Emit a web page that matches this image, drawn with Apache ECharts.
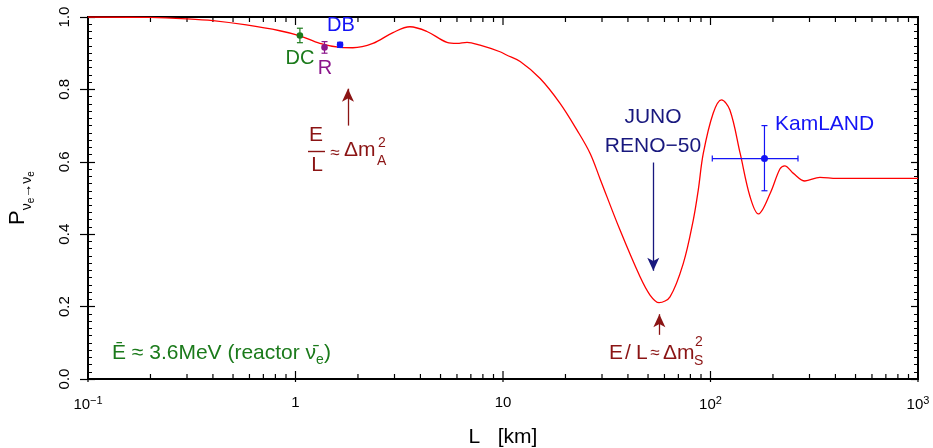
<!DOCTYPE html>
<html>
<head>
<meta charset="utf-8">
<script src="https://cdn.jsdelivr.net/npm/echarts@6/dist/echarts.min.js"></script>
<style>
  html, body { margin: 0; padding: 0; background: #fff; }
  #chart { width: 933px; height: 448px; }
</style>
</head>
<body>
<div id="chart"></div>
<script>
// survival probability curve
const curveL = [0.1, 0.2, 0.3, 0.4, 0.58, 0.84, 1.05, 1.31, 1.64, 1.89, 2.36, 2.95, 3.56, 4.3, 5.37, 6.0, 6.71, 7.75, 9.67, 10.4, 12.1, 15.1, 18.8, 22.7, 26.3, 29.4, 36.6, 45.7, 51.1, 56.5, 63.8, 74.0, 82.6, 87.3, 92.3, 103, 113, 124, 139, 155, 170, 194, 216, 228, 251, 285, 337, 406, 1000];
const curveP = [1.0, 0.999, 0.995, 0.99, 0.978, 0.962, 0.948, 0.927, 0.916, 0.915, 0.927, 0.957, 0.973, 0.960, 0.930, 0.927, 0.930, 0.922, 0.904, 0.895, 0.877, 0.830, 0.762, 0.688, 0.623, 0.552, 0.412, 0.283, 0.232, 0.211, 0.227, 0.320, 0.439, 0.522, 0.623, 0.734, 0.771, 0.743, 0.623, 0.504, 0.456, 0.513, 0.580, 0.589, 0.568, 0.547, 0.557, 0.554, 0.554];

// short baseline reactor experiments
const expNames = ['DC', 'R', 'DB'];
const expL = [1.05, 1.38, 1.64];
const expP = [0.949, 0.916, 0.923];
const expErr = [0.02, 0.016, 0.007];
const expColors = ['#1b7a1b', '#8b168b', '#1414f5'];

// KamLAND point with both error bars
const kamL = 182;
const kamP = 0.609;
const kamLRange = [102, 264];
const kamPRange = [0.52, 0.70];

// arrows (L, from P, to P)
const arrowL = [1.79, 53.0, 56.7];
const arrowFrom = [0.70, 0.598, 0.122];
const arrowTo = [0.802, 0.299, 0.179];
const arrowColors = ['#8b1414', '#18187e', '#8b1414'];

const xMajor = [0.1, 1, 10, 100, 1000];
const xLabels = ['10{sup|−1}', '1', '10', '10{sup|2}', '10{sup|3}'];

const font = 'Liberation Sans, Arial, Helvetica, sans-serif';
const red = '#8b1414';

const xMinor = [];
xMajor.slice(0, -1).forEach(d => {
  for (let k = 2; k <= 9; k++) xMinor.push(d * k);
});
const tickData = xMajor.map(v => [v, 1]).concat(xMinor.map(v => [v, 0]));

const chart = echarts.init(document.getElementById('chart'));

const txt = (x, y, text, size, color, align) => ({
  type: 'text', x, y, silent: true,
  style: { text, font: size + 'px ' + font, fill: color, align: align || 'center', verticalAlign: 'middle' }
});

chart.setOption({
  animation: false,
  grid: {
    left: 88, right: 15, top: 17, bottom: 69, outerBoundsMode: 'none', containLabel: false,
    show: true, borderColor: '#000', borderWidth: 2, backgroundColor: 'transparent'
  },
  xAxis: {
    type: 'log', logBase: 10, min: 0.1, max: 1000,
    axisLine: { lineStyle: { color: '#000', width: 2 } },
    axisTick: { show: false },
    splitLine: { show: false },
    axisLabel: {
      margin: 16, color: '#000', fontFamily: font,
      formatter: v => xLabels[Math.round(Math.log10(v)) + 1],
      rich: {
        sup: { fontSize: 11, fontFamily: font, color: '#000', padding: [0, 0, 9, 0], verticalAlign: 'bottom' }
      },
      fontSize: 15
    },
    name: 'L   [km]', nameLocation: 'middle', nameGap: 48,
    nameTextStyle: { fontSize: 21, fontFamily: font, color: '#000' }
  },
  yAxis: [{
    type: 'value', min: 0, max: 1, interval: 0.2, position: 'left',
    axisLine: { show: true, lineStyle: { color: '#000', width: 2 } },
    axisTick: { show: true, inside: false, length: 8, lineStyle: { color: '#000', width: 1.2 } },
    splitLine: { show: false },
    axisLabel: { rotate: 90, margin: 16, fontSize: 15, fontFamily: font, color: '#000', formatter: v => v.toFixed(1) },
    name: '{p|P}{s|ν}{e|e}{s|→ν}{e|e}', nameLocation: 'middle', nameGap: 52, nameRotate: 90,
    nameTextStyle: {
      rich: {
        p: { fontSize: 22, fontFamily: font, color: '#000', padding: [0, 0, 7, 0], verticalAlign: 'bottom' },
        s: { fontSize: 14, fontFamily: font, color: '#000', padding: [0, 0, 2, 0], verticalAlign: 'bottom' },
        e: { fontSize: 10, fontFamily: font, color: '#000', verticalAlign: 'bottom' }
      }
    }
  }, {
    type: 'value', min: 0, max: 1, interval: 0.2, position: 'left',
    axisLine: { show: false }, axisLabel: { show: false }, splitLine: { show: false },
    axisTick: { show: true, inside: true, length: 7, lineStyle: { color: '#000', width: 1.2 } },
    minorTick: { show: true, splitNumber: 10, length: 4, lineStyle: { color: '#000', width: 1 } }
  }, {
    type: 'value', min: 0, max: 1, interval: 0.2, position: 'right',
    axisLine: { show: true, lineStyle: { color: '#000', width: 2 } }, axisLabel: { show: false }, splitLine: { show: false },
    axisTick: { show: true, inside: true, length: 7, lineStyle: { color: '#000', width: 1.2 } },
    minorTick: { show: true, splitNumber: 10, length: 4, lineStyle: { color: '#000', width: 1 } }
  }],
  series: [{
    // top and bottom log ticks
    type: 'custom', silent: true, z: 1,
    data: tickData,
    encode: { x: 0, y: 1 },
    renderItem: (params, api) => {
      const v = api.value(0);
      const major = api.value(1) === 1;
      const b = api.coord([v, 0]);
      const t = api.coord([v, 1]);
      const len = major ? 8 : 5;
      return {
        type: 'group', children: [
          { type: 'line', shape: { x1: b[0], y1: b[1] + (major ? 3 : 0), x2: b[0], y2: b[1] - len }, style: { stroke: '#000', lineWidth: 1.2 } },
          { type: 'line', shape: { x1: t[0], y1: t[1], x2: t[0], y2: t[1] + len }, style: { stroke: '#000', lineWidth: 1.2 } }
        ]
      };
    }
  }, {
    type: 'line', z: 2,
    data: curveL.map((l, i) => [l, curveP[i]]),
    showSymbol: false, smooth: 0.35,
    lineStyle: { color: '#ff0000', width: 1.3 },
    markLine: {
      silent: true, animation: false,
      symbol: ['none', 'arrow'], symbolSize: [9, 13],
      label: { show: false },
      data: arrowL.map((l, i) => [
        { coord: [l, arrowFrom[i]], lineStyle: { color: arrowColors[i], width: 1.3, type: 'solid' }, itemStyle: { color: arrowColors[i] } },
        { coord: [l, arrowTo[i]] }
      ])
    }
  }, {
    type: 'custom', z: 3,
    data: expL.map((l, i) => [l, expP[i], expErr[i], i]),
    encode: { x: 0, y: 1 },
    renderItem: (params, api) => {
      const l = api.value(0), p = api.value(1), e = api.value(2);
      const c = expColors[api.value(3)];
      const lo = api.coord([l, p - e]), hi = api.coord([l, p + e]), mid = api.coord([l, p]);
      const st = { stroke: c, lineWidth: 1.2 };
      return {
        type: 'group', children: [
          { type: 'line', shape: { x1: lo[0], y1: lo[1], x2: hi[0], y2: hi[1] }, style: st },
          { type: 'line', shape: { x1: lo[0] - 3, y1: lo[1], x2: lo[0] + 3, y2: lo[1] }, style: st },
          { type: 'line', shape: { x1: hi[0] - 3, y1: hi[1], x2: hi[0] + 3, y2: hi[1] }, style: st },
          { type: 'circle', shape: { cx: mid[0], cy: mid[1], r: 3.3 }, style: { fill: c } }
        ]
      };
    }
  }, {
    type: 'custom', z: 3,
    data: [[kamL, kamP, kamLRange[0], kamLRange[1], kamPRange[0], kamPRange[1]]],
    encode: { x: 0, y: 1 },
    renderItem: (params, api) => {
      const l = api.value(0), p = api.value(1);
      const mid = api.coord([l, p]);
      const left = api.coord([api.value(2), p]), right = api.coord([api.value(3), p]);
      const lo = api.coord([l, api.value(4)]), hi = api.coord([l, api.value(5)]);
      const st = { stroke: '#1414f5', lineWidth: 1.2 };
      return {
        type: 'group', children: [
          { type: 'line', shape: { x1: left[0], y1: left[1], x2: right[0], y2: right[1] }, style: st },
          { type: 'line', shape: { x1: left[0], y1: left[1] - 3, x2: left[0], y2: left[1] + 3 }, style: st },
          { type: 'line', shape: { x1: right[0], y1: right[1] - 3, x2: right[0], y2: right[1] + 3 }, style: st },
          { type: 'line', shape: { x1: lo[0], y1: lo[1], x2: hi[0], y2: hi[1] }, style: st },
          { type: 'line', shape: { x1: lo[0] - 3, y1: lo[1], x2: lo[0] + 3, y2: lo[1] }, style: st },
          { type: 'line', shape: { x1: hi[0] - 3, y1: hi[1], x2: hi[0] + 3, y2: hi[1] }, style: st },
          { type: 'circle', shape: { cx: mid[0], cy: mid[1], r: 3.5 }, style: { fill: '#1414f5' } }
        ]
      };
    }
  }],
  graphic: [
    txt(300, 58, expNames[0], 20, expColors[0]),
    txt(325, 68, expNames[1], 20, expColors[1]),
    txt(341, 25, expNames[2], 20, expColors[2]),
    txt(775, 124, 'KamLAND', 21, '#1414f5', 'left'),
    txt(653, 117, 'JUNO', 21, '#18187e'),
    txt(653, 146, 'RENO−50', 21, '#18187e'),
    // E/L ≈ Δm²_A as a fraction
    txt(316, 135, 'E', 21, red),
    { type: 'line', silent: true, shape: { x1: 308, y1: 151.5, x2: 325, y2: 151.5 }, style: { stroke: red, lineWidth: 1.4 } },
    txt(317, 165, 'L', 21, red),
    txt(335, 153, '≈', 17, red),
    txt(344, 150, 'Δm', 21, red, 'left'),
    txt(378, 143, '2', 14, red, 'left'),
    txt(377, 161, 'A', 14, red, 'left'),
    // E/L ≈ Δm²_S
    txt(609, 353, 'E', 21, red, 'left'),
    txt(628, 353, '/', 21, red),
    txt(636, 353, 'L', 21, red, 'left'),
    txt(655, 353, '≈', 17, red),
    txt(663, 353, 'Δm', 21, red, 'left'),
    txt(695, 342, '2', 14, red, 'left'),
    txt(694, 361, 'S', 14, red, 'left'),
    {
      type: 'text', x: 112, y: 355, silent: true,
      style: {
        text: '{t|Ē ≈ 3.6MeV (reactor ν̄}{s|e}{t|)}',
        verticalAlign: 'middle', align: 'left',
        rich: {
          t: { fontSize: 21, fontFamily: font, fill: '#1b7a1b', padding: [0, 0, 4, 0], verticalAlign: 'bottom' },
          s: { fontSize: 14, fontFamily: font, fill: '#1b7a1b', verticalAlign: 'bottom' }
        }
      }
    }
  ]
});
</script>
</body>
</html>
